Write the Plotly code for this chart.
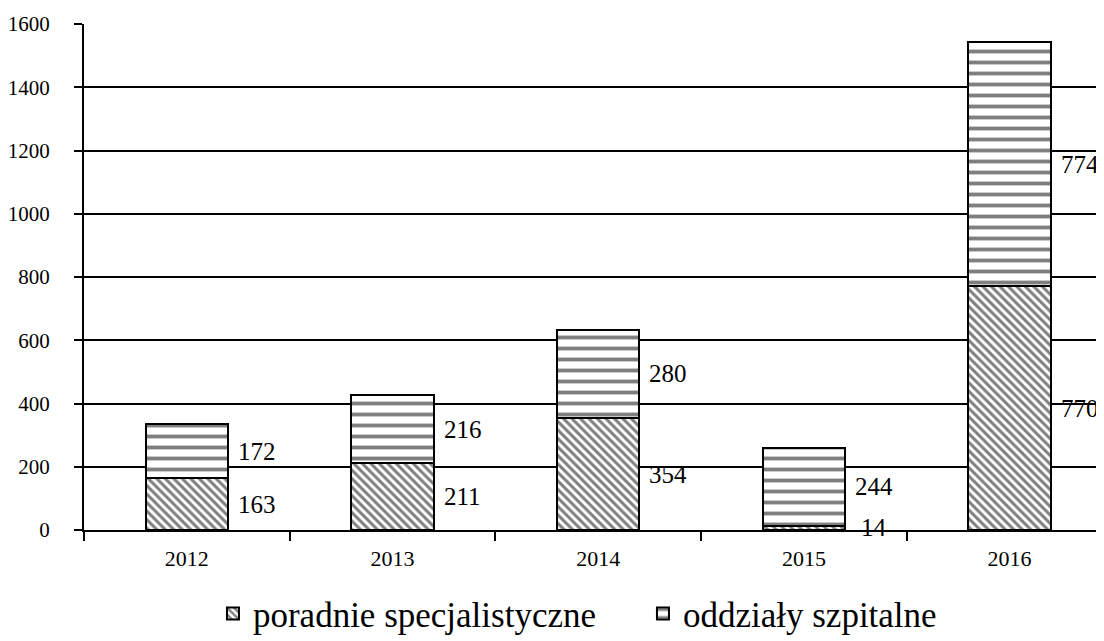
import plotly.graph_objects as go

years = ["2012", "2013", "2014", "2015", "2016"]
poradnie = [163, 211, 354, 14, 770]
oddzialy = [172, 216, 280, 244, 774]
y_ticks = [0, 200, 400, 600, 800, 1000, 1200, 1400, 1600]

FONT = "Liberation Serif"

fig = go.Figure()
fig.add_trace(go.Bar(
    x=years, y=poradnie, name="poradnie specjalistyczne",
    marker=dict(color="white", line=dict(color="black", width=2),
                pattern=dict(shape="\\", fgcolor="black", bgcolor="white",
                             size=6, solidity=0.5, fillmode="overlay")),
))
fig.add_trace(go.Bar(
    x=years, y=oddzialy, name="oddziały szpitalne",
    marker=dict(color="white", line=dict(color="black", width=2),
                pattern=dict(shape="-", fgcolor="black", bgcolor="white",
                             size=11, solidity=0.35, fillmode="overlay")),
))

annotations = []
for i, yr in enumerate(years):
    p = poradnie[i]
    o = oddzialy[i]
    annotations.append(dict(x=i, y=p / 2, xref="x", yref="y", text=str(p),
                            showarrow=False, xanchor="center", yanchor="middle",
                            xshift=70, font=dict(family=FONT, size=25, color="black")))
    annotations.append(dict(x=i, y=p + o / 2, xref="x", yref="y", text=str(o),
                            showarrow=False, xanchor="center", yanchor="middle",
                            xshift=70, font=dict(family=FONT, size=25, color="black")))

fig.update_layout(
    width=1096, height=633,
    margin=dict(l=76, r=0, t=16, b=111, autoexpand=False),
    barmode="stack", bargap=0.6,
    plot_bgcolor="white", paper_bgcolor="white",
    font=dict(family=FONT, color="black"),
    annotations=annotations,
    legend=dict(orientation="h", x=0.548, xanchor="center",
                yref="container", y=0.043, yanchor="middle",
                font=dict(family=FONT, size=35, color="black"),
                entrywidth=385, entrywidthmode="pixels", traceorder="normal"),
    xaxis=dict(type="category", range=[-0.5, 4.459], tickson="boundaries",
               ticks="outside", ticklen=9, tickwidth=2, tickcolor="black",
               showline=True, linecolor="black", linewidth=2, showgrid=False,
               automargin=False, ticklabelstandoff=8,
               tickfont=dict(family=FONT, size=22, color="black")),
    yaxis=dict(range=[0, 1600], tickvals=y_ticks, ticks="outside", ticklen=8,
               tickwidth=2, tickcolor="black", showline=True, linecolor="black",
               linewidth=2, showgrid=True, gridcolor="black", gridwidth=1.5,
               zeroline=False, automargin=False, ticklabelstandoff=20,
               tickfont=dict(family=FONT, size=21, color="black")),
)

fig.write_html("out.html")
